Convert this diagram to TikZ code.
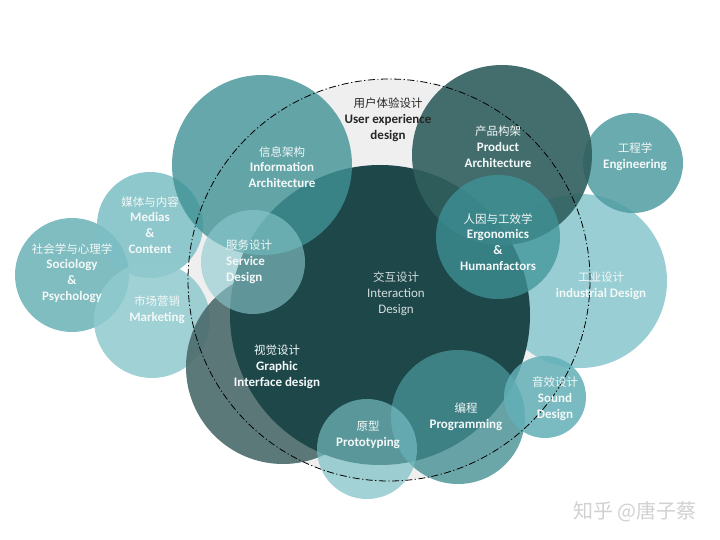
\documentclass[tikz,border=0pt]{standalone}
\usepackage{fontspec}
\newfontfamily\lat{Carlito}
\newfontfamily\cjk{Noto Sans CJK SC}
\definecolor{cGray}{HTML}{EFEFEF}
\definecolor{cSoc}{HTML}{6AB2B7}
\definecolor{cMed}{HTML}{7CBFC4}
\definecolor{cMkt}{HTML}{8FCACE}
\definecolor{cInd}{HTML}{8FCAD0}
\definecolor{cEng}{HTML}{509DA2}
\definecolor{cGra}{HTML}{4B6B6C}
\definecolor{cInt}{HTML}{1E4749}
\definecolor{cInf}{HTML}{409296}
\definecolor{cPro}{HTML}{305F5E}
\definecolor{cErg}{HTML}{3F9499}
\definecolor{cSer}{HTML}{8CCACF}
\definecolor{cPrt}{HTML}{76BDC3}
\definecolor{cPgm}{HTML}{469094}
\definecolor{cSnd}{HTML}{62B0B7}
\definecolor{cTxt}{HTML}{F4F8F8}
\begin{document}
\begin{tikzpicture}[x=1pt,y=-1pt,
  lbl/.style={text=cTxt, align=center, inner sep=0pt,
    font=\lat\bfseries\fontsize{13}{15.8}\selectfont}]
\newcommand{\zhs}[1]{{\cjk\mdseries\fontsize{11.5}{15.8}\selectfont #1}}
\useasboundingbox (0,0) rectangle (720,540);
\fill[white] (0,0) rectangle (720,540);
% big user experience circle (fill)
\fill[cGray] (389,280) circle[radius=201pt];
% left group
\fill[cSoc, fill opacity=0.85] (72,275) circle[radius=57pt];
\fill[cMed, fill opacity=0.85] (150,225) circle[radius=53pt];
\fill[cMkt, fill opacity=0.85] (152,320) circle[radius=58pt];
% right group
\fill[cInd, fill opacity=0.9] (580,281) circle[radius=87pt];
\fill[cEng, fill opacity=0.85] (633,163) circle[radius=50pt];
% centre
\fill[cGra, fill opacity=0.9] (283,367) circle[radius=97pt];
\fill[cInt] (380,315) circle[radius=150pt];
\fill[cInf, fill opacity=0.8] (262,165) circle[radius=90pt];
\fill[cPro, fill opacity=0.9] (502,155) circle[radius=90pt];
\fill[cErg, fill opacity=0.75] (498,237) circle[radius=62pt];
\fill[cSer, fill opacity=0.6] (253,262) circle[radius=52pt];
\fill[cPgm, fill opacity=0.8] (458,417) circle[radius=67pt];
\fill[cPrt, fill opacity=0.68] (367,449) circle[radius=50pt];
\fill[cSnd, fill opacity=0.85] (545,397) circle[radius=41pt];
% dash-dot outline
\draw[black, line width=0.8pt, dash pattern=on 7pt off 2.5pt on 1.2pt off 2.5pt] (389,280) circle[radius=201pt];
% labels
\node[lbl, text=black!85] (ux) at (388,120) {\zhs{用户体验设计}\\User experience\\design};
\node[lbl] (ia) at (282,167) {\zhs{信息架构}\\Information\\Architecture};
\node[lbl] (pa) at (498,147) {\zhs{产品构架}\\Product\\Architecture};
\node[lbl] (eng) at (635,157) {\zhs{工程学}\\Engineering};
\node[lbl] (erg) at (498,242) {\zhs{人因与工效学}\\Ergonomics\\\&\\Humanfactors};
\node[lbl] (ind) at (601,286) {\zhs{工业设计}\\industrial Design};
\node[lbl] (med) at (150,225) {\zhs{媒体与内容}\\Medias\\\&\\Content};
\node[lbl] (soc) at (72,273) {\zhs{社会学与心理学}\\Sociology\\\&\\Psychology};
\node[lbl] (mkt) at (157,310) {\zhs{市场营销}\\Marketing};
\node[lbl, align=left, anchor=west] (ser) at (226,262) {\zhs{服务设计}\\Service\\Design};
\node[lbl, text=cTxt!85!cInt, font=\lat\fontsize{13}{15.8}\selectfont] (ixd) at (396,294) {\zhs{交互设计}\\Interaction\\Design};
\node[lbl] (gra) at (277,367) {\zhs{视觉设计}\\Graphic\\Interface design};
\node[lbl] (prt) at (368,435) {\zhs{原型}\\Prototyping};
\node[lbl] (pgm) at (466,417) {\zhs{编程}\\Programming};
\node[lbl] (snd) at (555,399) {\zhs{音效设计}\\Sound\\Design};
\node[text=black!18, inner sep=0pt, font=\cjk\fontsize{20}{22}\selectfont] (wm) at (635,512) {知乎 @唐子蔡};
\end{tikzpicture}
\end{document}
